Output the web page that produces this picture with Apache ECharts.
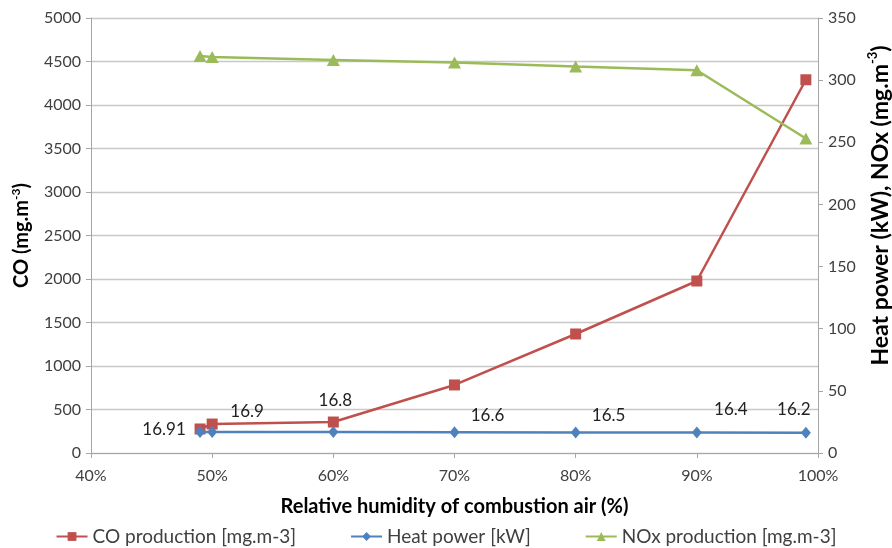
<!DOCTYPE html>
<html>
<head>
<meta charset="utf-8">
<script src="https://cdn.jsdelivr.net/npm/echarts@6/dist/echarts.min.js"></script>
<style>
  html, body { margin: 0; padding: 0; background: #fff; }
  #chart { width: 892px; height: 548px; }
</style>
</head>
<body>
<div id="chart"></div>
<script>
// Relative humidity of the combustion air (%)
const humidity = [49, 50, 60, 70, 80, 90, 99];
// CO production [mg.m-3] (left axis)
const coProduction = [276, 333, 356, 782, 1368, 1977, 4290];
// Heat power [kW] (right axis)
const heatPower = [16.91, 16.9, 16.8, 16.6, 16.5, 16.4, 16.2];
// NOx production [mg.m-3] (right axis)
const noxProduction = [319.5, 318.6, 316.3, 314.2, 311.0, 308.0, 253];

const seriesNames = ['CO production [mg.m-3]', 'Heat power [kW]', 'NOx production [mg.m-3]'];
const coAxisTicks = { min: 0, max: 5000, interval: 500 };
const rightAxisTicks = { min: 0, max: 350, interval: 50 };
const humidityTicks = { min: 40, max: 100, interval: 10 };

// where each heat-power value label sits relative to its marker
const heatLabelOffsets = [[-36, -2], [35, -20], [2, -32], [33, -17], [33, -17], [34, -23], [-12, -23]];

const FONT = 'Lato, "Open Sans", sans-serif';
const TEXT = '#404040';
const GRID = '#c8c8c8';
const AXIS = '#a6a6a6';

const pairs = (ys) => humidity.map((h, i) => [h, ys[i]]);
const plain = (v) => String(v);

const titleRich = (size, supSize) => ({
  t: { fontFamily: FONT, fontSize: size, fontWeight: 'bold', color: '#000', lineHeight: size + 4 },
  s: { fontFamily: FONT, fontSize: supSize, fontWeight: 'bold', color: '#000', verticalAlign: 'top', lineHeight: size + 4 }
});

const chart = echarts.init(document.getElementById('chart'), null, { renderer: 'canvas' });

chart.setOption({
  animation: false,
  backgroundColor: '#ffffff',
  textStyle: { fontFamily: FONT },
  grid: { left: 91, right: 74, top: 18, bottom: 95, containLabel: false, outerBoundsMode: 'none' },
  legend: {
    top: 522,
    left: 'center',
    itemWidth: 31,
    itemHeight: 11,
    itemGap: 54,
    textStyle: { fontFamily: FONT, fontSize: 19, color: TEXT },
    data: seriesNames
  },
  xAxis: {
    type: 'value',
    min: humidityTicks.min,
    max: humidityTicks.max,
    interval: humidityTicks.interval,
    name: 'Relative humidity of combustion air (%)',
    nameLocation: 'middle',
    nameGap: 44,
    nameTextStyle: { fontFamily: FONT, fontSize: 20, fontWeight: 'bold', color: '#000' },
    axisLine: { show: true, lineStyle: { color: AXIS, width: 1 } },
    axisTick: { show: true, inside: false, length: 5, lineStyle: { color: AXIS } },
    axisLabel: { formatter: '{value}%', fontFamily: FONT, fontSize: 16, color: TEXT, margin: 15 },
    splitLine: { show: false }
  },
  yAxis: [
    {
      type: 'value',
      position: 'left',
      min: coAxisTicks.min,
      max: coAxisTicks.max,
      interval: coAxisTicks.interval,
      name: '{t|CO (mg.m}{s|-3}{t|)}',
      nameLocation: 'middle',
      nameRotate: 90,
      nameGap: 57,
      nameTextStyle: { rich: titleRich(20, 12) },
      axisLine: { show: true, lineStyle: { color: AXIS, width: 1 } },
      axisTick: { show: true, inside: false, length: 5, lineStyle: { color: AXIS } },
      axisLabel: { formatter: plain, fontFamily: FONT, fontSize: 16, color: TEXT, margin: 10 },
      splitLine: { show: true, lineStyle: { color: GRID, width: 1.3 } }
    },
    {
      type: 'value',
      position: 'right',
      min: rightAxisTicks.min,
      max: rightAxisTicks.max,
      interval: rightAxisTicks.interval,
      name: '{t|Heat power (kW), NOx (mg.m}{s|-3}{t|)}',
      nameLocation: 'middle',
      nameRotate: 90,
      nameGap: 47,
      nameTextStyle: { padding: [0, 0, 0, 60], rich: titleRich(23, 13) },
      axisLine: { show: true, lineStyle: { color: AXIS, width: 1 } },
      axisTick: { show: true, inside: false, length: 5, lineStyle: { color: AXIS } },
      axisLabel: { formatter: plain, fontFamily: FONT, fontSize: 16, color: TEXT, margin: 10 },
      splitLine: { show: false }
    }
  ],
  series: [
    {
      name: seriesNames[0],
      type: 'line',
      yAxisIndex: 0,
      data: pairs(coProduction),
      symbol: 'rect',
      symbolSize: 11,
      itemStyle: { color: '#C0504D' },
      lineStyle: { color: '#C0504D', width: 2.5 },
      z: 2
    },
    {
      name: seriesNames[1],
      type: 'line',
      yAxisIndex: 1,
      data: pairs(heatPower).map((p, i) => ({
        value: p,
        label: { offset: heatLabelOffsets[i] }
      })),
      symbol: 'diamond',
      symbolSize: [10, 12],
      itemStyle: { color: '#4F81BD' },
      lineStyle: { color: '#4F81BD', width: 2.5 },
      label: {
        show: true,
        position: 'inside',
        fontFamily: FONT,
        fontSize: 17,
        color: '#222',
        formatter: (p) => String(p.value[1])
      },
      z: 3
    },
    {
      name: seriesNames[2],
      type: 'line',
      yAxisIndex: 1,
      data: pairs(noxProduction),
      symbol: 'triangle',
      symbolSize: [13, 12],
      itemStyle: { color: '#9BBB59' },
      lineStyle: { color: '#9BBB59', width: 2.5 },
      z: 4
    }
  ]
});
</script>
</body>
</html>
